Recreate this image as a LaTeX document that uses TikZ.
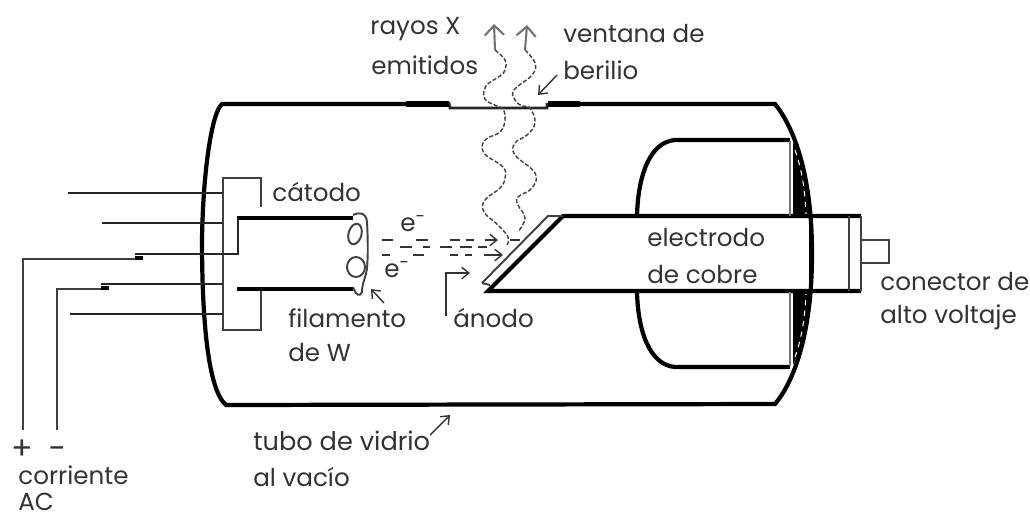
\documentclass[tikz,border=0pt]{standalone}
\usepackage{fontspec}
\setmainfont{Poppins}
\usetikzlibrary{arrows.meta, positioning}

\tikzset{
    tubeline/.style={line width=2.4pt},
    wireline/.style={line width=1.5pt, black!85},
    thinline/.style={line width=1.1pt, black!75},
    ray/.style={line width=0.8pt, black!75, dash pattern=on 2.4pt off 1.1pt},
    beam/.style={line width=1pt, black!80},
    tag/.style={font=\fontsize{14pt}{15pt}\selectfont, inner sep=0pt, anchor=west, text=black!80},
    pointer/.style={line width=0.8pt, black!80, -{Straight Barb[length=4pt,width=6.5pt]}},
    rayhead/.style={line width=1.2pt, black!55, -{Straight Barb[length=5.5pt,width=11pt]}}
}

\begin{document}
\begin{tikzpicture}[x=0.02cm, y=-0.02cm]

\useasboundingbox (0,0) rectangle (1030,518);

% ------------------------
% Glass tube
% ------------------------
\coordinate (tubeTL) at (222,104);
\coordinate (tubeTR) at (775,104);
\coordinate (tubeBR) at (775,404);
\coordinate (tubeBL) at (226,405);
\draw[tubeline] (450,104) -- (tubeTL) .. controls (212,112) and (203,170) .. (202,240) .. controls (202,320) and (208,390) .. (tubeBL) -- (tubeBR) .. controls (792,384) and (812,338) .. (812,254) .. controls (812,170) and (792,125) .. (tubeTR) -- (548,104);

% Window
\coordinate (winL) at (450,108);
\coordinate (winR) at (547,108);
\draw[wireline] (449,103) -- (winL) -- (winR) -- (547,103);
\draw[line width=3.2pt] (406,104) -- (449,104);
\draw[line width=3.2pt] (548,104) -- (580,104);

% ------------------------
% Cathode and filament
% ------------------------
\draw[thinline] (261,207) -- (261,178) -- (223,178) -- (223,330) -- (261,330) -- (261,290);
\foreach \ya/\xa in {193/68, 223/102, 284/101, 314/70} {
    \draw[wireline] (\xa,\ya) -- (223,\ya);
}
\draw[wireline] (135,254) -- (238,254) -- (238,218);
\draw[tubeline] (237,218) -- (353,218);
\draw[tubeline] (237,289) -- (353,289);

% Feed wires
\draw[thinline] (140,259) -- (23,259) -- (23,430);
\draw[thinline] (109,289) -- (57,289) -- (57,430);
\draw[line width=2.2pt] (135,258) -- (143,258);
\draw[line width=2.2pt] (101,288) -- (109,288);

% Filament coil
\draw[thinline] (353,215) .. controls (360,212) and (366,212) .. (367,222) .. controls (368,240) and (368,258) .. (367,268) .. controls (366,278) and (362,282) .. (362,292) .. controls (360,297) and (356,296) .. (353,287);
\draw[thinline, rotate around={-15:(355,234)}] (355,234) ellipse (6.5 and 10.5);
\draw[thinline] (356,267) ellipse (9 and 10);

% ------------------------
% Electron beam
% ------------------------
\foreach \xa/\xb in {382/393, 416/428, 450/460, 466/474, 510/520} {
    \draw[beam] (\xa,240) -- (\xb,240);
}
\foreach \xa/\xb in {400/412, 423/430, 440/452, 460/472, 478/487} {
    \draw[beam] (\xa,247) -- (\xb,247);
}
\foreach \xa/\xb in {382/390, 413/424, 450/458, 465/472} {
    \draw[beam] (\xa,255) -- (\xb,255);
}
\coordinate (beamA) at (498,240);
\coordinate (beamC) at (503,255);
\draw[pointer] (485,240) -- (beamA);
\draw[pointer] (484,255) -- (beamC);

% ------------------------
% Anode
% ------------------------
\draw[tubeline] (861,216) -- (563,216) -- (488,291) -- (861,291);
\draw[thinline] (482,283) -- (548,216) -- (563,216);
\draw[thinline] (482,283) -- (490,285);

% Electrode cup
\fill (793,142) .. controls (804,165) and (810,190) .. (811,216) -- (793,216) -- cycle;
\fill (793,365) .. controls (804,342) and (810,317) .. (811,292) -- (793,292) -- cycle;
\draw[white, line width=0.6pt, dashed] (795,150) .. controls (802,170) and (805,190) .. (806,214);
\draw[white, line width=0.6pt, dashed] (795,357) .. controls (802,337) and (805,317) .. (806,294);
\draw[tubeline] (790,140) -- (675,140) .. controls (650,142) and (638,175) .. (637,216);
\draw[tubeline] (790,367) -- (675,367) .. controls (650,365) and (638,332) .. (637,292);
\draw[line width=1.4pt, black!55] (790,141) -- (790,216);
\draw[line width=1.4pt, black!55] (790,292) -- (790,366);

% Connector
\draw[tubeline] (811,216) -- (811,291);
\draw[thinline] (849,216) -- (849,291);
\draw[thinline] (861,216) -- (861,291);
\draw[thinline] (861,240) rectangle (889,263);

% ------------------------
% X-rays
% ------------------------
\coordinate (rayTipA) at (494,24);
\coordinate (rayTipB) at (527,25);
\draw[rayhead] (495,50) -- (rayTipA);
\draw[rayhead] (525,50) -- (rayTipB);
\draw[ray] plot[smooth, tension=0.7] coordinates {(495,50) (505,60) (505,70) (500,76) (486,86) (485,99) (497,106) (503,109) (505,120) (500,132) (485,140) (484,153) (503,167) (505,178) (500,188) (485,200) (484,212) (498,225) (508,237) (507,245)};
\draw[ray] plot[smooth, tension=0.7] coordinates {(525,50) (535,63) (532,75) (514,90) (515,100) (522,106) (530,108) (535,123) (527,135) (515,143) (515,155) (535,173) (532,188) (518,197) (518,205) (525,218) (518,232)};

% ------------------------
% Pointers
% ------------------------
\draw[pointer] (557,75) -- (538,95);
\draw[pointer] (384,303) -- (371,289);
\draw[pointer] (446,316) -- (446,273) -- (470,273);
\draw[pointer] (430,435) -- (450,415);

% ------------------------
% Labels
% ------------------------
\node[tag] (rayos) at (370,29) {rayos X};
\node[tag] (emitidos) at (371,65) {emitidos};
\node[tag] (ventana) at (563,34) {ventana de};
\node[tag] (berilio) at (563,70) {berilio};
\node[tag] (catodo) at (272,192) {cátodo};
\node[tag] (fila) at (288,318) {filamento};
\node[tag] (dew) at (288,353) {de W};
\node[tag] (anodo) at (453,318) {ánodo};
\node[tag] (electrodo) at (647,238) {electrodo};
\node[tag] (cobre) at (647,275) {de cobre};
\node[tag] (conector) at (880,282) {conector de};
\node[tag] (alto) at (880,317) {alto voltaje};
\node[tag, font=\fontsize{14.6pt}{15pt}\selectfont] (tubo) at (253,441) {tubo de vidrio};
\node[tag] (vacio) at (253,477) {al vacío};
\node[tag, font=\fontsize{18pt}{20pt}\selectfont] (plus) at (11,450) {+};
\node[tag, font=\fontsize{18pt}{20pt}\selectfont] (minus) at (48,453) {−};
\node[tag] (corriente) at (18,475) {corriente};
\node[tag] (ac) at (18,502) {AC};
\node[tag] (eup) at (400,224) {e\textsuperscript{-}};
\node[tag] (edown) at (384,270) {e\textsuperscript{-}};

\end{tikzpicture}
\end{document}
